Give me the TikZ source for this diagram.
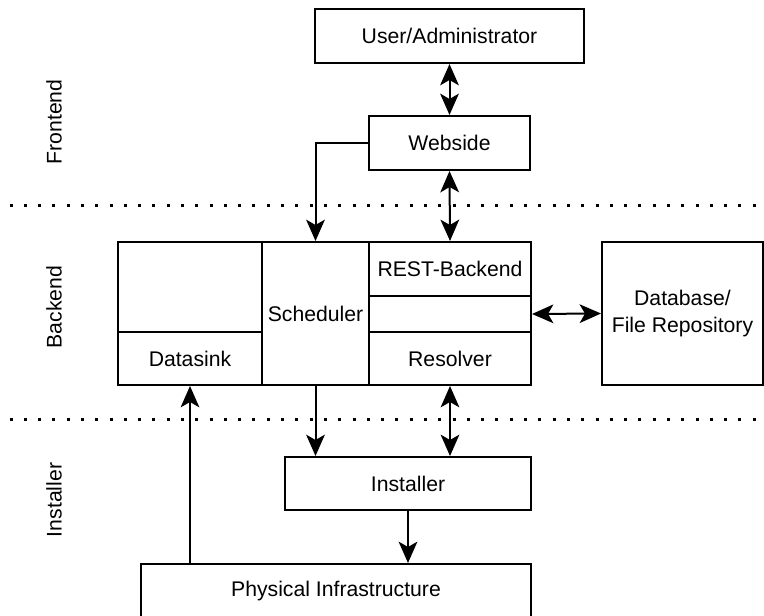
\documentclass[tikz,border=0pt]{standalone}
\usepackage{fontspec}
\setmainfont{Liberation Sans}
\usetikzlibrary{arrows.meta}

\begin{document}
\begin{tikzpicture}[x=0.75pt,y=-0.75pt,
  line width=1.5pt,
  font=\fontsize{15.9}{20}\selectfont,
  box/.style={draw, inner sep=0pt, align=center},
  headtip/.tip={Stealth[length=16pt,width=14pt,inset=4pt]},
  conn/.style={-headtip},
  biconn/.style={headtip-headtip},
  layerline/.style={line width=2.25pt, line cap=butt, dash pattern=on 2.25pt off 8.47pt},
  layerlabel/.style={rotate=90, inner sep=0pt}]

% page frame and clipping
\useasboundingbox (0,0) rectangle (764,616);
\clip (0,0) rectangle (764,616);

% helper: a box given by its corners (px)
\newcommand{\pxbox}[6]{%
  \node[box, minimum width={(#4-#2)*0.75pt}, minimum height={(#5-#3)*0.75pt}]
    (#1) at ({(#2+#4)/2},{(#3+#5)/2}) {#6};}

% layer separators
\coordinate (sepA0) at (9.5,205.5);
\coordinate (sepA1) at (764,205.5);
\coordinate (sepB0) at (9.5,420);
\coordinate (sepB1) at (764,420);
\draw[layerline] (sepA0) -- (sepA1);
\draw[layerline] (sepB0) -- (sepB1);

% layer labels
\node[layerlabel] (lblFront) at (54,122) {Frontend};
\node[layerlabel] (lblBack)  at (54,307) {Backend};
\node[layerlabel] (lblInst)  at (54,500) {Installer};

% frontend
\pxbox{user}{315}{9}{584}{63}{User/Administrator}
\pxbox{web}{369}{116}{530}{170}{Webside}

% backend block
\pxbox{sinkspace}{118}{242}{262}{332}{}
\pxbox{sink}{118}{332}{262}{385}{Datasink}
\pxbox{sched}{262}{242}{369}{385}{Scheduler}
\pxbox{rest}{369}{242}{531}{296}{REST-Backend}
\pxbox{mid}{369}{296}{531}{332}{}
\pxbox{resolver}{369}{332}{531}{385}{Resolver}
\pxbox{db}{602}{242}{763}{385}{Database/\\File Repository}

% installer layer
\pxbox{inst}{285}{457}{531}{510}{Installer}
\pxbox{phys}{141}{564}{531}{619}{Physical Infrastructure}

% connectors
\draw[biconn] (user.south) -- (web.north);
\draw[conn] (web.west) -| (sched.north);
\draw[biconn] (web.south) -- (rest.north);
\draw[biconn] (mid.east) -- (db.west);
\draw[conn] (sched.south) -- (sched.south |- inst.north);
\draw[biconn] (resolver.south) -- (resolver.south |- inst.north);
\draw[conn] (inst.south) -- (inst.south |- phys.north);
\draw[conn] (sink.south |- phys.north) -- (sink.south);

\end{tikzpicture}
\end{document}
